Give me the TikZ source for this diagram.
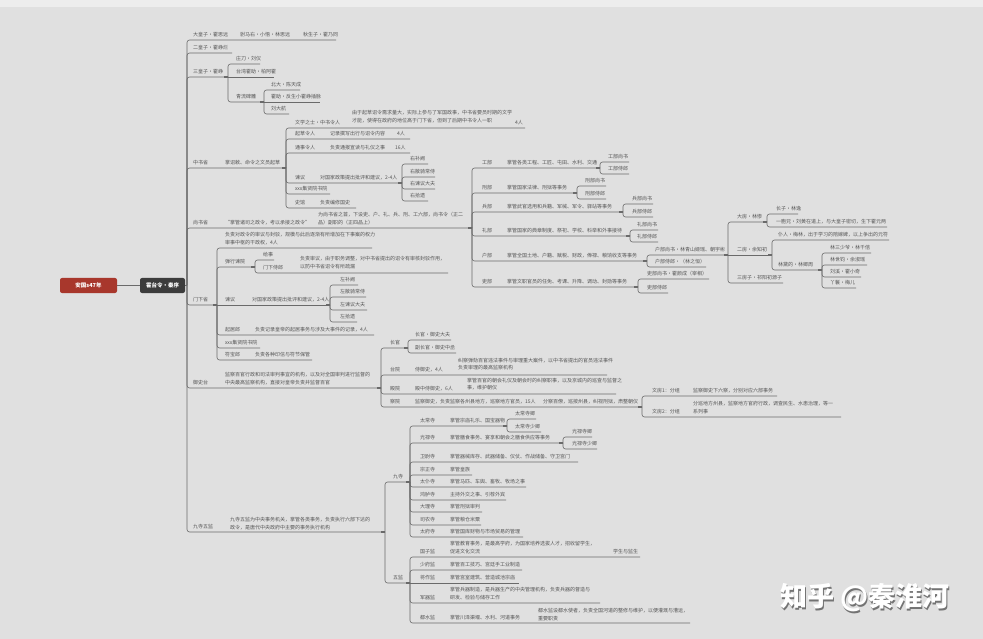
\documentclass[tikz,border=0pt]{standalone}
\usepackage{fontspec}
\setmainfont{Noto Sans CJK SC}
\definecolor{bgc}{HTML}{E0E0E0}
\definecolor{topc}{HTML}{EDEDED}
\definecolor{lnc}{HTML}{6A6A6A}
\definecolor{txc}{HTML}{555555}
\definecolor{redc}{HTML}{A8372C}
\definecolor{darkc}{HTML}{3C3C3C}
\newcounter{nd}
\tikzset{
  ln/.style={draw=lnc,line width=0.6pt,rounded corners=2.5pt},
  lnj/.style={draw=lnc,line width=1.5pt},
  txt/.style={anchor=base west,inner sep=0pt,outer sep=0pt,text=txc,font=\fontsize{5}{6}\selectfont},
  rootbox/.style={fill=redc,rounded corners=2pt,text=white,font=\fontsize{5.5}{6}\selectfont\bfseries,minimum width=57pt,minimum height=15pt,inner sep=0pt},
  leadbox/.style={fill=darkc,rounded corners=2pt,text=white,font=\fontsize{5.5}{6}\selectfont\bfseries,minimum width=45pt,minimum height=15pt,inner sep=0pt},
  wmark/.style={inner sep=0pt,font=\fontsize{27}{30}\selectfont\bfseries},
}
\newcommand\tx[3]{\stepcounter{nd}\edef\ndname{t\arabic{nd}}\node[txt] (\ndname) at (#1,#2) {#3};}
\newcommand\kid[4]{\draw[ln] (#1,#2) -- (#1,#3) -- (#4,#3);}
\newcommand\st[3]{\draw[ln] (#1,#3) -- (#2,#3);}
\newcommand\jn[2]{\draw[lnj] (#1-4,#2) -- (#1,#2);}
\begin{document}
\begin{tikzpicture}[x=1pt,y=-1pt]
\fill[bgc] (0,0) rectangle (983,639);
\fill[topc] (0,0) rectangle (983,7);
\useasboundingbox (0,0) rectangle (983,639);

% root
\node[rootbox] (root) at (88.5,285.5) {安国s47年};
\node[leadbox] (lead) at (162.5,285.5) {霍台令·秦序};
\coordinate (trunk) at (187,285.5);
\draw[ln] (root.east) -- (lead.west);
\draw[lnj] (lead.east) -- (trunk);

% ---------- princes
\kid{187}{285.5}{40}{336}
\tx{193}{36.5}{大皇子·霍思远}
\tx{240}{36.5}{驸马右·小悟·林思远}
\tx{303}{36.5}{秋生子·霍乃同}
\kid{187}{285.5}{53}{232}
\tx{193}{49.5}{二皇子·霍峥烂}
\kid{187}{285.5}{77}{228}\jn{228}{77}
\tx{193}{73.5}{三皇子·霍峥}
\kid{228}{77}{64}{260}\tx{236}{60.5}{庄刀·刘仪}
\st{228}{274}{77}\tx{236}{73.5}{台湾霍助·柏阿霍}
\kid{228}{77}{102}{264}\jn{264}{102}\tx{236}{98.5}{青流碑雕}
\kid{264}{102}{90}{300}\tx{271}{86.5}{北大·陈天成}
\st{264}{320}{102}\tx{271}{98.5}{霍助·反生小霍峥插脉}
\kid{264}{102}{114}{289}\tx{271}{110.5}{刘大航}

% ---------- 中书省
\kid{187}{285.5}{168}{286}\jn{286}{168}
\tx{193}{164.5}{中书省}\tx{225}{164.5}{掌诏敕、命令之文员起草}
\kid{286}{168}{128}{525}\tx{295}{124.5}{文学之士·中书令人}
\tx{352}{115}{由于起草诏令需求量大，实际上参与了军国政事，中书省要员时期的文学}
\tx{352}{123}{才能，使得在政府的地位高于门下省，但到了后期中书令人一职}
\tx{515}{124.5}{4人}
\kid{286}{168}{139}{410}\tx{295}{135.5}{起草令人}\tx{330}{135.5}{记录撰写出行与诏令内容}\tx{397}{135.5}{4人}
\kid{286}{168}{153}{410}\tx{295}{149.5}{通事令人}\tx{330}{149.5}{负责通报宣读与礼仪之事}\tx{395}{149.5}{16人}
\kid{286}{168}{183}{402}\jn{402}{183}\tx{295}{179.5}{谏议}\tx{320}{179.5}{对国家政策提出批评和建议，2-4人}
\kid{402}{183}{164}{428}\tx{410}{160.5}{右补阙}
\kid{402}{183}{177}{435}\tx{410}{173.5}{右散骑常侍}
\kid{402}{183}{189}{435}\tx{410}{185.5}{右谏议大夫}
\kid{402}{183}{201}{428}\tx{410}{197.5}{右拾遗}
\kid{286}{168}{194}{330}\tx{295}{190.5}{xxx集贤院书院}
\kid{286}{168}{208}{356}\tx{295}{204.5}{史馆}\tx{320}{204.5}{负责编修国史}

% ---------- 尚书省
\kid{187}{285.5}{228}{472}\jn{472}{228}
\tx{193}{224.5}{尚书省}\tx{225}{224.5}{“掌管诸司之政令，考以承接之政令”}
\tx{318}{217}{为尚书省之首，下设吏、户、礼、兵、刑、工六部，尚书令（正二}
\tx{318}{224.5}{品）副职的（正四品上）}
% 工部
\kid{472}{228}{168}{600}\jn{600}{168}\tx{482}{164.5}{工部}\tx{507}{164.5}{掌管各类工程、工匠、屯田、水利、交通}
\kid{600}{168}{162}{629}\tx{608}{158.5}{工部尚书}
\kid{600}{168}{174}{629}\tx{608}{170.5}{工部侍郎}
% 刑部
\kid{472}{228}{193}{577}\jn{577}{193}\tx{482}{189.5}{刑部}\tx{507}{189.5}{掌管国家法律、刑狱等事务}
\kid{577}{193}{186}{606}\tx{585}{182.5}{刑部尚书}
\kid{577}{193}{199}{606}\tx{585}{195.5}{刑部侍郎}
% 兵部
\kid{472}{228}{212}{623}\jn{623}{212}\tx{482}{208.5}{兵部}\tx{507}{208.5}{掌管武官选用和兵籍、军械、军令、驿站等事务}
\kid{623}{212}{204}{653}\tx{632}{200.5}{兵部尚书}
\kid{623}{212}{217}{653}\tx{632}{213.5}{兵部侍郎}
% 礼部
\kid{472}{228}{236}{630}\jn{630}{236}\tx{482}{232.5}{礼部}\tx{507}{232.5}{掌管国家的典章制度、祭祀、学校、科举和外事接待}
\kid{630}{236}{230}{658}\tx{637}{226.5}{礼部尚书}
\kid{630}{236}{242}{658}\tx{637}{238.5}{礼部侍郎}
% 户部
\kid{472}{228}{261}{647}\jn{647}{261}\tx{482}{257.5}{户部}\tx{507}{257.5}{掌管全国土地、户籍、赋税、财政，俸禄、粮饷收支等事务}
\kid{647}{261}{255}{728}\jn{728}{255}\tx{655}{251.5}{户部尚书·林青山姬瑶、朝宇彬}
\kid{647}{261}{267}{706}\tx{655}{263.5}{户部侍郎·（林之恒）}
% 吏部
\kid{472}{228}{287}{638}\jn{638}{287}\tx{482}{283.5}{吏部}\tx{507}{283.5}{掌管文职官员的任免、考课、升降、调动、封勋等事务}
\kid{638}{287}{279}{709}\tx{647}{275.5}{吏部尚书·霍颜成（宰相）}
\kid{638}{287}{293}{668}\tx{647}{289.5}{吏部侍郎}
% 户部尚书 family
\kid{728}{255}{222}{767}\jn{767}{222}\tx{737}{218.5}{大房·林惨}
\kid{767}{222}{214}{798}\tx{776}{210.5}{长子·林逸}
\kid{767}{222}{227}{887}\tx{776}{223.5}{一胞兄·刘黄在道上，与大皇子密切，生下霍元两}
\st{728}{772}{255}\jn{772}{255}\tx{737}{251.5}{二房·余知初}
\kid{772}{255}{240}{889}\tx{778}{236.5}{仆人·梅林，出于学习的陪嫁婢，以上争出的元符}
\kid{772}{255}{270}{822}\jn{822}{270}\tx{778}{266.5}{林黛的·林卿周}
\kid{822}{270}{253}{871}\tx{830}{249.5}{林三少爷·林千倍}
\kid{822}{270}{265}{867}\tx{830}{261.5}{林世钧·余淑瑶}
\kid{822}{270}{277}{861}\tx{830}{273.5}{刘溪·霍小奇}
\kid{822}{270}{288}{856}\tx{830}{284.5}{丫鬟·梅儿}
\kid{728}{255}{283}{783}\tx{737}{279.5}{三房子·祁阳初源子}

% ---------- 门下省
\kid{187}{285.5}{305}{217}\jn{217}{305}
\tx{193}{301.5}{门下省}
\kid{217}{305}{248}{372}
\tx{225}{237}{负责对政令的审议与封驳，规模与此后逐渐有所增加在下事案的权力}
\tx{225}{245}{审事中枢的干政权，4人}
\kid{217}{305}{267}{255}\jn{255}{267}\tx{225}{263.5}{弹行谏院}
\kid{255}{267}{260}{274}\tx{263}{256.5}{给事}
\kid{255}{267}{273}{448}\tx{263}{269.5}{门下侍郎}
\tx{300}{260.5}{负责审议，由于职务调整，对中书省提出的诏令有审核封驳作用，}
\tx{300}{269}{以防中书省诏令有所疏漏}
\st{217}{330}{305}\jn{330}{305}\tx{225}{301.5}{谏议}\tx{252}{301.5}{对国家政策提出批评和建议，2-4人}
\kid{330}{305}{285}{358}\tx{340}{281.5}{左补阙}
\kid{330}{305}{297}{366}\tx{340}{293.5}{左散骑常侍}
\kid{330}{305}{310}{367}\tx{340}{306.5}{左谏议大夫}
\kid{330}{305}{322}{357}\tx{340}{318.5}{左拾遗}
\kid{217}{305}{335}{374}\tx{225}{331.5}{起居郎}\tx{255}{331.5}{负责记录皇帝的起居事务与涉及大事件的记录，4人}
\kid{217}{305}{348}{260}\tx{225}{344.5}{xxx集贤院书院}
\kid{217}{305}{360}{312}\tx{225}{356.5}{符宝郎}\tx{255}{356.5}{负责各种印信与符节保管}

% ---------- 御史台
\kid{187}{285.5}{388}{381}\jn{381}{388}
\tx{193}{384.5}{御史台}
\tx{225}{376}{监察百官行政和司法审判事宜的机构，以及对全国审判进行监督的}
\tx{225}{384}{中央最高监察机构，直接对皇帝负责并监督百官}
\kid{381}{388}{348}{408}\jn{408}{348}\tx{390}{344.5}{长官}
\kid{408}{348}{340}{451}\tx{415}{336.5}{长官·御史大夫}
\kid{408}{348}{353}{456}\tx{415}{349.5}{副长官·御史中丞}
\kid{381}{388}{375}{607}\tx{390}{371.5}{台院}\tx{415}{371.5}{侍御史，4人}
\tx{458}{362}{纠察弹劾百官违法事件与审理重大案件，以中书省提出的官员违法事件}
\tx{458}{369.5}{负责审理的最高监察机构}
\kid{381}{388}{394}{616}\tx{390}{390.5}{殿院}\tx{415}{390.5}{殿中侍御史，6人}
\tx{467}{382}{掌管百官的朝会礼仪及朝会时的纠察职事，以及京城内的巡查与监督之}
\tx{467}{389.5}{事，维护朝仪}
\kid{381}{388}{407}{642}\jn{642}{407}\tx{390}{403.5}{察院}
\tx{415}{403.5}{监察御史，负责监察各州县地方，巡察地方官员，15人}
\tx{543}{403.5}{分察百僚，巡按州县，纠视刑狱，肃整朝仪}
\kid{642}{407}{396}{777}\tx{652}{392.5}{文房1：分组}\tx{693}{392.5}{监察御史下六察，分别对应六部事务}
\kid{642}{407}{417}{841}\tx{652}{413.5}{文房2：分组}
\tx{693}{405}{分巡地方州县，监察地方官府行政，调查民生、水患治理，等一}
\tx{693}{413.5}{系列事}

% ---------- 九寺五监
\kid{187}{285.5}{532}{385}\jn{385}{532}
\tx{193}{528.5}{九寺五监}
\tx{230}{521}{九寺五监为中央事务机关，掌管各类事务，负责执行六部下达的}
\tx{230}{529}{政令，是唐代中央政府中主要的事务执行机构}
\kid{385}{532}{482}{410}\jn{410}{482}\tx{393}{478.5}{九寺}
\kid{385}{532}{583}{410}\jn{410}{583}\tx{393}{579.5}{五监}
% 九寺
\kid{410}{482}{426}{507}\jn{507}{426}\tx{420}{422.5}{太常寺}\tx{450}{422.5}{掌管宗庙礼乐、国宝器物}
\kid{507}{426}{419}{536}\tx{515}{415.5}{太常寺卿}
\kid{507}{426}{432}{541}\tx{515}{428.5}{太常寺少卿}
\kid{410}{482}{443}{563}\jn{563}{443}\tx{420}{439.5}{光禄寺}\tx{450}{439.5}{掌管膳食事务、宴享和朝会之膳食供应等事务}
\kid{563}{443}{437}{592}\tx{572}{433.5}{光禄寺卿}
\kid{563}{443}{449}{597}\tx{572}{445.5}{光禄寺少卿}
\kid{410}{482}{462}{578}\tx{420}{458.5}{卫尉寺}\tx{450}{458.5}{掌管器械库存、武器储备、仪仗、作战储备、守卫宫门}
\kid{410}{482}{475}{472}\tx{420}{471.5}{宗正寺}\tx{450}{471.5}{掌管皇族}
\kid{410}{482}{487}{526}\tx{420}{483.5}{太仆寺}\tx{450}{483.5}{掌管马匹、车舆、畜牧、牧场之事}
\kid{410}{482}{500}{506}\tx{420}{496.5}{鸿胪寺}\tx{450}{496.5}{主持外交之事、引荐外宾}
\kid{410}{482}{512}{482}\tx{420}{508.5}{大理寺}\tx{450}{508.5}{掌管刑狱审判}
\kid{410}{482}{525}{481}\tx{420}{521.5}{司农寺}\tx{450}{521.5}{掌管粮仓米粟}
\kid{410}{482}{537}{523}\tx{420}{533.5}{太府寺}\tx{450}{533.5}{掌管国库财物与市场贸易的管理}
% 五监
\kid{410}{583}{557}{640}\tx{420}{553.5}{国子监}
\tx{450}{545}{掌管教育事务，是最高学府，为国家培养选拔人才，招收留学生，}
\tx{450}{553.5}{促进文化交流}
\tx{613}{553.5}{学生与监生}
\kid{410}{583}{570}{522}\tx{420}{566.5}{少府监}\tx{450}{566.5}{掌管百工技巧、宫廷手工业制造}
\st{410}{519}{583}\tx{420}{579.5}{将作监}\tx{450}{579.5}{掌管宫室建筑、营造城池宗庙}
\kid{410}{583}{603}{600}\tx{420}{599.5}{军器监}
\tx{450}{591}{掌管兵器制造，是兵器生产的中央管理机构，负责兵器的督造与}
\tx{450}{599.5}{研发、检验与储存工作}
\kid{410}{583}{623}{690}\tx{420}{619.5}{都水监}\tx{450}{619.5}{掌管川泽渠堰、水利、河道事务}
\tx{538}{612}{都水监设都水使者，负责全国河道的整修与维护，以便灌溉与漕运，}
\tx{538}{620}{重要职责}

% ---------- watermark
\node[wmark,text=black!55] (wms) at (866.2,599.2) {知乎 @秦淮河};
\node[wmark,text=white] (wm) at (865,598) {知乎 @秦淮河};
\end{tikzpicture}
\end{document}
